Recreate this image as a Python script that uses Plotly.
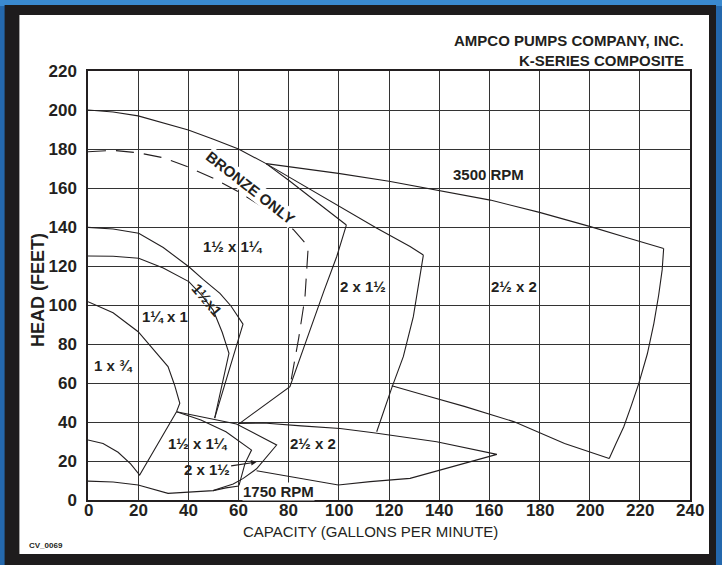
import plotly.graph_objects as go

# ---------------- data ----------------
x_ticks = list(range(0, 241, 20))
y_ticks = list(range(0, 221, 20))

# 3500 RPM outlines
top_1_5x1_25_x = [0, 10, 20, 30, 40, 50, 60, 71, 80, 90, 103]
top_1_5x1_25_y = [200, 199, 197, 193.5, 189.7, 185, 180, 172.5, 164, 154, 141]

top_2x1_5_x = [71, 76.5, 90, 103.2, 115, 128.4, 133.7]
top_2x1_5_y = [172.5, 168.4, 158.5, 148.7, 139.5, 130, 125.6]

right_2x1_5_x = [133.7, 131.8, 129.7, 125.7, 121.1, 115.1]
right_2x1_5_y = [125.6, 110, 94, 73.5, 57.5, 35]

top_2_5x2_x = [71, 85, 99.8, 120, 139, 160.4, 180, 200.3, 215, 229.5]
top_2_5x2_y = [172.5, 170, 167.5, 163.5, 159, 153.8, 147.5, 140.2, 134.5, 129]

right_2_5x2_x = [229.5, 228.9, 227.5, 225.6, 223, 219.6, 216.5, 213.6, 210.5, 207.8]
right_2_5x2_y = [129, 118, 105, 90.6, 75, 59.8, 48, 37.6, 29, 21.3]

bottom_2_5x2_x = [207.8, 190, 169.7, 150, 135, 121.1]
bottom_2_5x2_y = [21.3, 29, 40.2, 48, 53.5, 58.6]

shared_1_5x1_25_x = [103, 99.2, 94, 89.8, 85, 80.5, 59.9]
shared_1_5x1_25_y = [141, 125, 107, 92, 74, 58.1, 38.8]

bronze_x = [0, 10, 20.3, 30, 39.5, 50, 60, 70, 78.5, 82, 87.8, 86.5, 84, 80.5]
bronze_y = [178.6, 179.3, 178, 175.5, 171, 165, 158, 150, 142.3, 138.5, 130, 104, 83, 58]

curve_1_5x1_x = [0, 10, 20.2, 30, 40.2, 46, 52.6, 57, 61.8, 50.5]
curve_1_5x1_y = [139.8, 139, 136.8, 129.5, 119.6, 113, 106, 99.5, 90.2, 42]

curve_1_25x1_x = [0, 10, 20.2, 30, 40.2, 45, 49.9, 53.5, 56.2, 50.5]
curve_1_25x1_y = [125.1, 125, 124, 119, 112, 105.5, 97.4, 86, 75.2, 42]

curve_1x0_75_x = [0, 10, 20, 26, 31.9, 34.5, 36.6, 35.3]
curve_1x0_75_y = [101.7, 96, 86.3, 77.5, 68.4, 59, 49.6, 45.3]

# 1750 RPM outlines
left_1750_x = [0, 6, 12, 17, 20.6, 35.3]
left_1750_y = [30.8, 29, 24.5, 18.5, 12.8, 45.3]

top_1750_small_x = [35.3, 45, 55, 65.2, 62.6, 61, 60.2]
top_1750_small_y = [45.3, 41, 35, 25.6, 18.8, 12, 7.5]

bottom_1750_x = [0, 10, 20, 31.9, 49.9, 55, 60.2]
bottom_1750_y = [9.7, 9.2, 7.7, 3.4, 4.8, 6.2, 7.2]

mid_1750_x = [35.3, 50.5, 59.2, 75.2, 71.2, 67.2, 61.9, 57.9, 52.6, 49.9]
mid_1750_y = [45.3, 41.3, 39, 28.2, 22.2, 16, 11.1, 8.2, 6, 4.8]

big_1750_x = [59.9, 70, 85, 100.5, 113.8, 124.4, 139, 163, 128.4, 112.5, 99.8, 67.2]
big_1750_y = [39.2, 39.5, 38, 36.7, 34.5, 32.5, 29.9, 23.4, 11.1, 9.4, 7.7, 15]

lines = [
    (top_1_5x1_25_x, top_1_5x1_25_y, "solid"),
    (top_2x1_5_x, top_2x1_5_y, "solid"),
    (right_2x1_5_x, right_2x1_5_y, "solid"),
    (top_2_5x2_x, top_2_5x2_y, "solid"),
    (right_2_5x2_x, right_2_5x2_y, "solid"),
    (bottom_2_5x2_x, bottom_2_5x2_y, "solid"),
    (shared_1_5x1_25_x, shared_1_5x1_25_y, "solid"),
    (bronze_x, bronze_y, "18px,10px"),
    (curve_1_5x1_x, curve_1_5x1_y, "solid"),
    (curve_1_25x1_x, curve_1_25x1_y, "solid"),
    (curve_1x0_75_x, curve_1x0_75_y, "solid"),
    (left_1750_x, left_1750_y, "solid"),
    (top_1750_small_x, top_1750_small_y, "solid"),
    (bottom_1750_x, bottom_1750_y, "solid"),
    (mid_1750_x, mid_1750_y, "solid"),
    (big_1750_x, big_1750_y, "solid"),
]

# region labels: text, x, y, angle, white background
labels = [
    ("3500 RPM", 159.7, 166.7, 0, False),
    ("2½ x 2", 169.7, 109.4, 0, False),
    ("2 x 1½", 109.8, 109.4, 0, False),
    ("1½ x 1¼", 57.9, 129.9, 0, False),
    ("BRONZE ONLY", 64.8, 160.5, 38, True),
    ("1½x1", 47.3, 102.6, 50, False),
    ("1¼ x 1", 30.6, 94, 0, False),
    ("1 x ¾", 10, 69.2, 0, False),
    ("1½ x 1¼", 43.9, 29, 0, False),
    ("2½ x 2", 89.8, 29, 0, False),
    ("1750 RPM", 75.9, 4.2, 0, True),
]
arrow_label = ("2 x 1½", 47.3, 15.6, 67.2, 19.5)

FONT = "Liberation Sans Narrow, Arial Narrow, Liberation Sans, Arial, sans-serif"
INK = "#231f20"
OUTER_BLUE = "#2468ad"

# pixel geometry of the figure (plot area: l=88, t=71, 602 x 429)
PL, PT, PW, PH = 88, 71, 602, 429


def px(xp):
    return (xp - PL) / PW


def py(yp):
    return (PT + PH - yp) / PH


fig = go.Figure()
for xs, ys, dash in lines:
    fig.add_trace(go.Scatter(x=xs, y=ys, mode="lines",
                             line=dict(color=INK, width=1.1, dash=dash),
                             hoverinfo="skip", showlegend=False))

for text, x, y, ang, bg in labels:
    fig.add_annotation(x=x, y=y, text="<b>%s</b>" % text, showarrow=False,
                       textangle=ang, font=dict(family=FONT, size=15, color=INK),
                       bgcolor="white" if bg else "rgba(0,0,0,0)", borderpad=0)

t, tx, ty, hx, hy = arrow_label
fig.add_annotation(x=hx, y=hy, ax=tx, ay=ty, axref="x", ayref="y",
                   text="<b>%s</b>" % t, showarrow=True, arrowhead=2,
                   arrowsize=1, arrowwidth=1.1, arrowcolor=INK, standoff=0,
                   font=dict(family=FONT, size=15, color=INK))

# x tick labels placed under the axis
for v in x_ticks:
    fig.add_annotation(x=v, xref="x", yref="paper", y=py(511), text="<b>%d</b>" % v,
                       showarrow=False, xanchor="center", yanchor="middle",
                       font=dict(family=FONT, size=17, color=INK))

# frame: lighter top band, black border and white panel
fig.add_shape(type="rect", xref="paper", yref="paper", x0=px(0), x1=px(722),
              y0=py(6), y1=py(0), fillcolor="#3a8ad0", line=dict(width=0), layer="below")
fig.add_shape(type="rect", xref="paper", yref="paper", x0=px(4.6), x1=px(716),
              y0=py(575), y1=py(5), fillcolor="#1e1c1d", line=dict(width=0), layer="below")
fig.add_shape(type="rect", xref="paper", yref="paper", x0=px(19.4), x1=px(709),
              y0=py(554), y1=py(15), fillcolor="white", line=dict(width=0), layer="below")

paper_texts = [
    ("<b>AMPCO PUMPS COMPANY, INC.</b>", 686, 41, "right", 15, 0),
    ("<b>K-SERIES COMPOSITE</b>", 686, 60, "right", 15, 0),
    ("CAPACITY (GALLONS PER MINUTE)", 370, 531, "center", 15, 0),
    ("<b>HEAD (FEET)</b>", 38, 290, "center", 18, -90),
    ("<b>CV_0069</b>", 46, 545, "center", 8, 0),
]
for text, xp, yp, xa, size, ang in paper_texts:
    fig.add_annotation(xref="paper", yref="paper", x=px(xp), y=py(yp), xanchor=xa,
                       yanchor="middle", text=text, showarrow=False, textangle=ang,
                       font=dict(family=FONT, size=size, color=INK))

axis_common = dict(showgrid=True, gridcolor="#333333", gridwidth=1.4,
                   showline=True, linecolor=INK, linewidth=1.5, mirror=True,
                   zeroline=False, ticks="", automargin=False,
                   tickfont=dict(family=FONT, size=17, color=INK, weight="bold"))
fig.update_xaxes(range=[0, 240], tickvals=x_ticks, showticklabels=False, **axis_common)
fig.update_yaxes(range=[0, 220], tickvals=y_ticks, ticktext=[str(v) for v in y_ticks],
                 ticklen=5, ticklabelstandoff=6, **axis_common)

fig.update_layout(width=722, height=565, margin=dict(l=PL, r=722 - PL - PW, t=PT, b=565 - PT - PH),
                  paper_bgcolor=OUTER_BLUE, plot_bgcolor="rgba(0,0,0,0)",
                  showlegend=False)

fig.write_html("out.html", config={"displayModeBar": False},
               post_script="document.body.style.margin='0';"
                           "document.body.style.background='%s';" % OUTER_BLUE)
